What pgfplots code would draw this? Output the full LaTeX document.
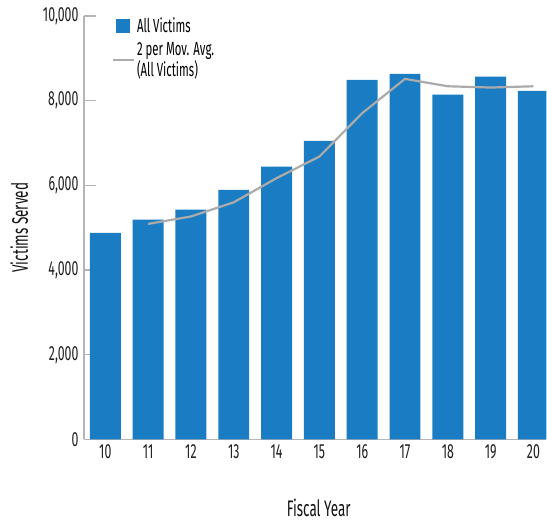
\documentclass[border=0pt]{standalone}
\usepackage{pgfplots}
\pgfplotsset{compat=1.18}
\usepackage{fontspec}
\setmainfont{Fira Sans}[FakeStretch=0.6]
\definecolor{barblue}{HTML}{1A7CC2}
\definecolor{avggray}{HTML}{ABABAB}
\definecolor{axgray}{HTML}{B5B5B5}
\begin{document}
\begin{tikzpicture}
\begin{axis}[
  at={(0pt,0pt)}, anchor=south west,
  scale only axis, width=463pt, height=424pt,
  xmin=9.5, xmax=20.3, ymin=0, ymax=10000,
  axis lines*=left,
  axis line style={axgray, line width=1.4pt},
  tick align=inside,
  xtick={10,...,20},
  xticklabels={10,11,12,13,14,15,16,17,18,19,20},
  minor xtick={10.5,11.5,...,19.5},
  ytick={0,2000,4000,6000,8000,10000},
  major tick length=0pt,
  minor tick length=9pt,
  every minor tick/.style={axgray, line width=1.2pt},
  ytick style={axgray, line width=1.2pt, /pgfplots/major tick length=12pt},
  xtick style={draw=none},
  scaled y ticks=false,
  /pgf/number format/.cd, 1000 sep={,}, assume math mode=true,
  /pgfplots/.cd,
  tick label style={font=\fontsize{20.5}{22}\selectfont, text=black!88},
  yticklabel style={xshift=-2pt},
  xticklabel style={yshift=-2pt},
  xlabel={Fiscal Year},
  ylabel={Victims Served},
  label style={font=\fontsize{22.5}{26}\selectfont, text=black!92},
  xlabel style={at={(axis description cs:0.508,-0.162)}, anchor=center},
  ylabel style={at={(axis description cs:-0.140,0.5)}, anchor=center, rotate=0},
  legend style={at={(axis description cs:0.06,1.0)}, anchor=north west,
    draw=none, fill=none, font=\fontsize{19}{20.5}\selectfont,
    nodes={align=left}, row sep=4pt, inner sep=0pt},
  legend cell align=left,
]
\addplot[ybar, bar width=31pt, fill=barblue, draw=none,
  legend image code/.code={\fill[barblue] (3pt,-7pt) rectangle (17pt,7pt);}]
  coordinates {(10,4880) (11,5190) (12,5425) (13,5895) (14,6440) (15,7050)
               (16,8490) (17,8630) (18,8140) (19,8565) (20,8230)};
\addlegendentry{All Victims}
\addplot[avggray, line width=2.2pt, mark=none,
  legend image code/.code={\draw[avggray, line width=2.2pt] (0pt,0pt) -- (21pt,0pt);}]
  coordinates {(11,5090) (12,5265) (13,5600) (14,6170) (15,6680)
               (16,7705) (17,8515) (18,8340) (19,8310) (20,8340)};
\addlegendentry{2 per Mov. Avg.\\(All Victims)}
\end{axis}
\path (-84pt,-82pt) rectangle (463pt,440pt);
\end{tikzpicture}
\end{document}
